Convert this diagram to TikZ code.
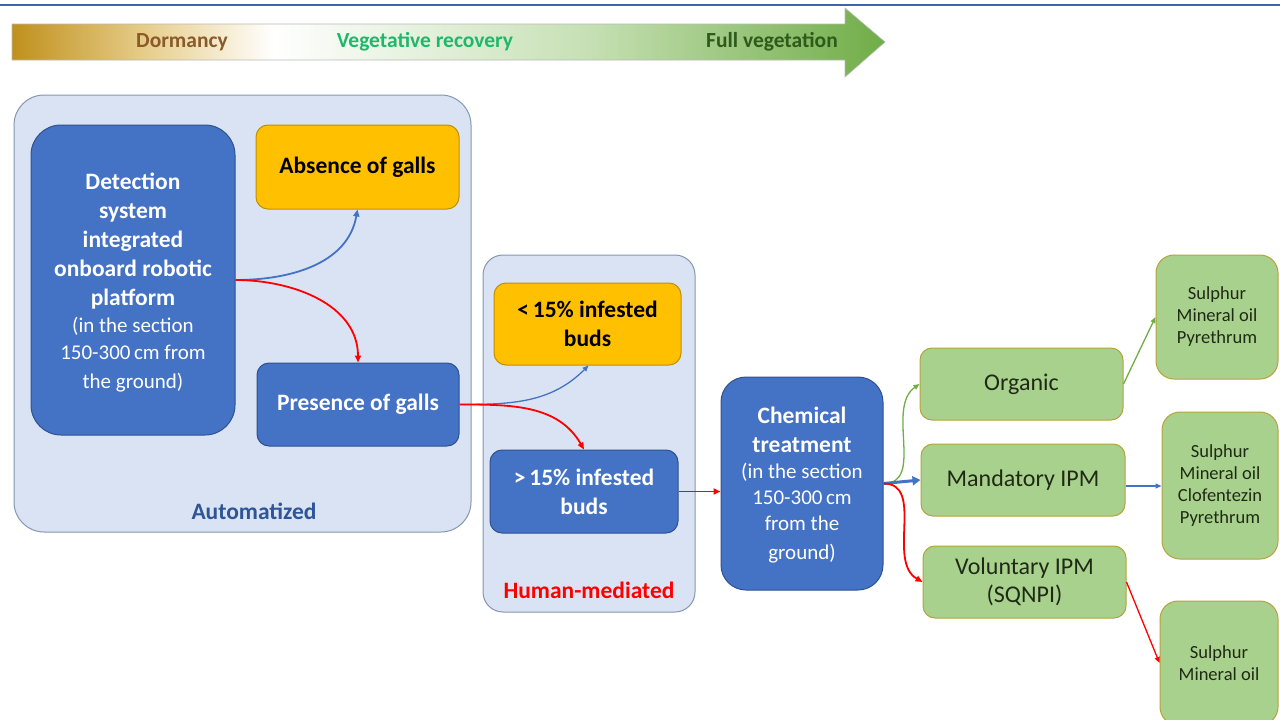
\documentclass[tikz,border=0pt]{standalone}
\usepackage{fontspec}
\setmainfont{Carlito}
\usetikzlibrary{arrows.meta}
\definecolor{boxblue}{HTML}{4472C4}
\definecolor{bordblue}{HTML}{2F528F}
\definecolor{contfill}{HTML}{DAE3F3}
\definecolor{contdraw}{HTML}{8497B0}
\definecolor{boxyellow}{HTML}{FFC000}
\definecolor{bordyellow}{HTML}{BF9000}
\definecolor{boxgreen}{HTML}{A9D18E}
\definecolor{bordgreen}{HTML}{B5A33A}
\definecolor{txtgreen}{HTML}{1F2A14}
\definecolor{autoblue}{HTML}{2F5597}
\definecolor{arrred}{HTML}{FF0000}
\definecolor{arrgreen}{HTML}{70AD47}
\definecolor{tlgold}{HTML}{C0901C}
\definecolor{tlyellow}{HTML}{E8D090}
\definecolor{tllgreen}{HTML}{C6E0B4}
\definecolor{tlgreen}{HTML}{70AD47}
\definecolor{dormbrown}{HTML}{8A5A28}
\definecolor{vegcol}{HTML}{1FB86A}
\definecolor{fullcol}{HTML}{2E5A1C}
\definecolor{topline}{HTML}{3A64B0}
\pgfdeclarehorizontalshading{timeline}{100bp}{color(0bp)=(tlgold); color(25bp)=(tlgold); color(33bp)=(tlyellow); color(40bp)=(white); color(58bp)=(tllgreen); color(75bp)=(tlgreen); color(100bp)=(tlgreen)}
\tikzset{
  container/.style={draw=contdraw, fill=contfill, line width=1pt, rounded corners=#1, inner sep=0pt},
  bluebox/.style={draw=bordblue, fill=boxblue, text=white, line width=1pt, rounded corners=#1, align=flush center, inner sep=0pt},
  yellowbox/.style={draw=bordyellow, fill=boxyellow, text=black, line width=1pt, rounded corners=12pt, align=flush center, inner sep=0pt},
  greenbox/.style={draw=bordgreen, fill=boxgreen, text=txtgreen, line width=1pt, rounded corners=#1, align=flush center, inner sep=0pt},
  boxtext/.style={text=white, align=flush center, inner sep=0pt},
  bigbold/.style={font=\fontsize{23.5}{29}\selectfont\bfseries},
  tltext/.style={font=\fontsize{21.5}{24}\selectfont\bfseries},
  grouplab/.style={font=\fontsize{23.5}{27}\selectfont\bfseries},
  greentext/.style={font=\fontsize{24}{28}\selectfont},
  smalltext/.style={font=\fontsize{18.5}{22}\selectfont},
  conn/.style={line width=1.8pt, -{Triangle[length=7pt,width=6pt]}},
  connthin/.style={line width=1.3pt, -{Triangle[length=6pt,width=5pt]}},
}
\begin{document}
\begin{tikzpicture}[x=1pt,y=-1pt]
\useasboundingbox (0,0) rectangle (1280,720);
\clip (0,0) rectangle (1280,720);
% top line
\draw[topline, line width=2pt] (0,4.5) -- (1280,4.5);
% timeline arrow
\shade[shading=timeline, draw=gray!55, line width=0.6pt] (12,24) -- (845,24) -- (845,8) -- (885,42) -- (845,77) -- (845,60) -- (12,60) -- cycle;
\node[tltext, text=dormbrown] (dorm) at (182,42) {Dormancy};
\node[tltext, text=vegcol] (veg) at (425,42) {Vegetative recovery};
\node[tltext, text=fullcol] (full) at (772,42) {Full vegetation};
% containers
\node[container=30pt, minimum width=457pt, minimum height=437pt] (auto) at (242.5,313.5) {};
\node[grouplab, text=autoblue] (autolab) at (254,511) {Automatized};
\node[container=20pt, minimum width=212pt, minimum height=357pt] (human) at (589,433.5) {};
\node[grouplab, text=arrred] (humanlab) at (589,590) {Human-mediated};
% left boxes
\node[bluebox=30pt, minimum width=204pt, minimum height=310pt] (det) at (133,280) {};
\node[boxtext, text width=200pt, bigbold] (dettext) at (133,283)
  {Detection\\system\\integrated\\onboard robotic\\platform\par\mdseries\fontsize{21}{27}\selectfont (in the section\\150-300\,cm from\\the ground)};
\node[yellowbox, minimum width=203pt, minimum height=84pt, bigbold] (abs) at (357.5,167) {Absence of galls};
\node[bluebox=12pt, minimum width=202pt, minimum height=83pt, bigbold] (pres) at (358,404.5) {Presence of galls};
\node[yellowbox, minimum width=187pt, minimum height=82pt, bigbold] (lt) at (587.5,324) {<\,15\% infested\\buds};
\node[bluebox=12pt, minimum width=188pt, minimum height=83pt, bigbold] (gt) at (584,491.5) {>\,15\% infested\\buds};
\node[bluebox=25pt, minimum width=162pt, minimum height=213pt] (chem) at (802,483.5) {};
\node[boxtext, text width=160pt, bigbold] (chemtext) at (802,485.5)
  {Chemical\\treatment\par\mdseries\fontsize{21}{26}\selectfont (in the section\\150-300\,cm\\from the\\ground)};
% green boxes
\node[greenbox=12pt, minimum width=203pt, minimum height=72pt, greentext] (org) at (1021.5,384) {Organic};
\node[greenbox=12pt, minimum width=204pt, minimum height=72pt, greentext] (mand) at (1023,480) {Mandatory IPM};
\node[greenbox=12pt, minimum width=203pt, minimum height=72pt, greentext] (vol) at (1024.5,582) {Voluntary IPM\\(SQNPI)};
\node[greenbox=18pt, minimum width=122pt, minimum height=124pt, smalltext] (b1) at (1217,317) {Sulphur\\Mineral oil\\Pyrethrum};
\node[greenbox=18pt, minimum width=116pt, minimum height=147pt, smalltext] (b2) at (1220,485.5) {Sulphur\\Mineral oil\\Clofentezin\\Pyrethrum};
\node[greenbox=18pt, minimum width=118pt, minimum height=124pt, smalltext] (b3) at (1219,663) {Sulphur\\Mineral oil};
% connectors
\draw[conn, boxblue] (det.east) to[out=0,in=-100] (abs.south);
\draw[conn, arrred] (det.east) to[out=0,in=90] (pres.north);
\draw[connthin, boxblue] (pres.east) to[out=0,in=225] ([xshift=1pt]lt.south);
\draw[conn, arrred] (pres.east) to[out=0,in=120] (gt.north);
\draw[conn, arrred] (gt.east) -- (gt.east -| chem.west);
\draw[connthin, arrgreen] (chem.east) to[out=0,in=215] (org.west);
\draw[line width=3pt, boxblue, -{Triangle[length=8pt,width=9pt]}] (chem.east) -- (mand.west);
\draw[conn, arrred] (chem.east) to[out=0,in=150] (vol.west);
\draw[connthin, arrgreen] (org.east) -- (b1.west);
\draw[connthin, boxblue] ([yshift=-6pt]mand.east) -- ([yshift=-6pt]mand.east -| b2.west);
\draw[connthin, arrred] (vol.east) -- (b3.west);
\end{tikzpicture}
\end{document}
